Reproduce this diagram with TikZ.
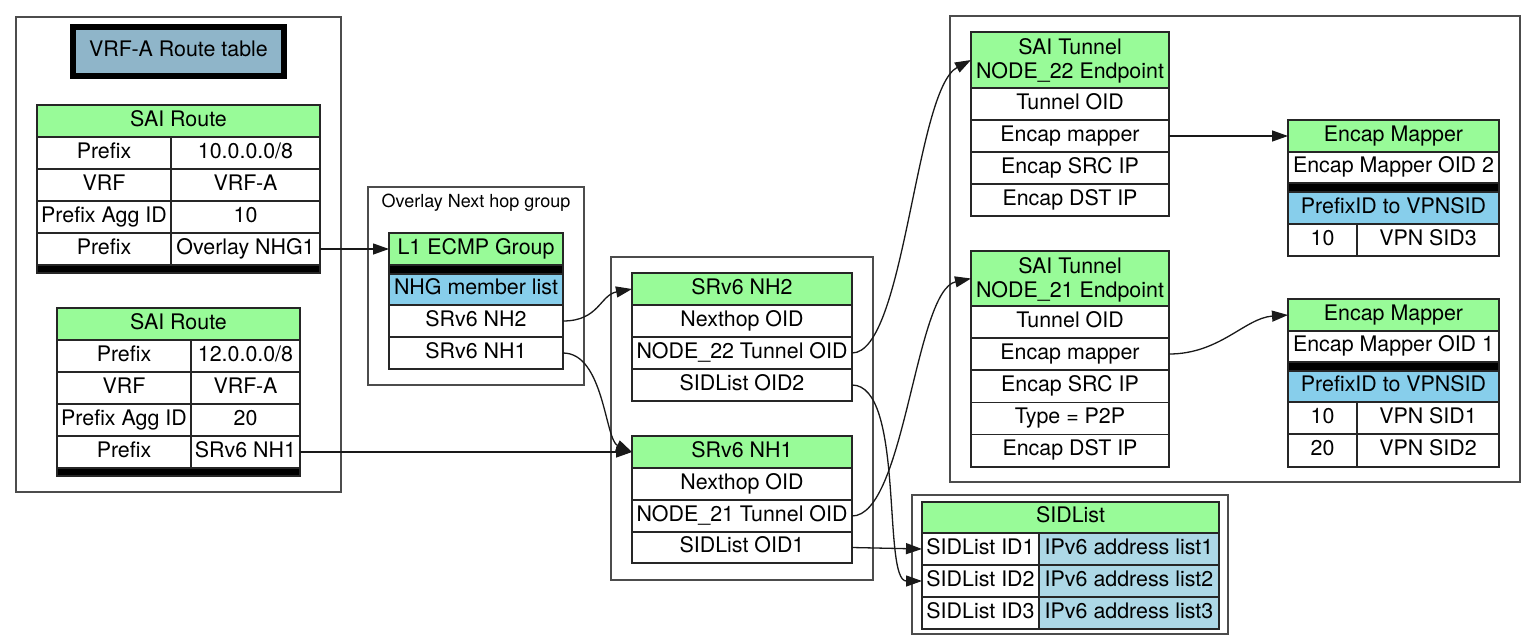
\documentclass[tikz,border=0pt]{standalone}
\usepackage{fontspec}
\setmainfont{TeX Gyre Heros}
\usetikzlibrary{arrows.meta}
\definecolor{hdrgreen}{HTML}{98FB98}
\definecolor{skyb}{HTML}{87CEEB}
\definecolor{lblue}{HTML}{ADD8E6}
\definecolor{vrfblue}{HTML}{8FB5C9}
\newcommand\tcell[7]{\node[tcellstyle,#6,minimum width={(#4-#2)*1pt},minimum height={(#5-#3)*1pt}] (#1) at ({(#2+#4)/2},{(#3+#5)/2}) {#7};}
\tikzset{
  tcellstyle/.style={draw=black!85, line width=1.2pt, inner sep=0pt, outer sep=0pt,
    font=\fontsize{21.4}{24}\selectfont, text height=15.5pt, text depth=5.5pt, fill=white},
  hdr/.style={fill=hdrgreen},
  blk/.style={fill=black, text height=0pt, text depth=0pt},
  sky/.style={fill=skyb},
  lbl/.style={fill=lblue},
  txt/.style={inner sep=0pt, font=\fontsize{21.4}{24}\selectfont},
  cluster/.style={draw=black!70, line width=1.4pt},
  conn/.style={draw=black!90, line width=1.3pt, -{Triangle[length=16pt,width=11pt]}}
}
\begin{document}
\begin{tikzpicture}[x=1pt,y=-1pt]
\fill[white] (0,0) rectangle (1536,640);
\useasboundingbox (0,0) rectangle (1536,640);

% clusters
\draw[cluster] (16,17) rectangle (341,492);
\draw[cluster] (368,187) rectangle (584,385);
\draw[cluster] (611,257) rectangle (873,580);
\draw[cluster] (912,495) rectangle (1228,634);
\draw[cluster] (950,16) rectangle (1520,482);

% VRF-A title
\node[draw=black, line width=6pt, fill=vrfblue, minimum width=211pt, minimum height=49pt,
  inner sep=0pt, font=\fontsize{21.4}{24}\selectfont, text height=15.5pt, text depth=5.5pt] (vrf) at (178.5,51.5) {VRF-A Route table};

% SAI Route 1
\tcell{r1h}{37}{105}{320}{137}{hdr}{SAI Route}
\tcell{r1a1}{37}{137}{171}{169}{}{Prefix}
\tcell{r1a2}{171}{137}{320}{169}{}{10.0.0.0/8}
\tcell{r1b1}{37}{169}{171}{201}{}{VRF}
\tcell{r1b2}{171}{169}{320}{201}{}{VRF-A}
\tcell{r1c1}{37}{201}{171}{233}{}{Prefix Agg ID}
\tcell{r1c2}{171}{201}{320}{233}{}{10}
\tcell{r1d1}{37}{233}{171}{265}{}{Prefix}
\tcell{r1d2}{171}{233}{320}{265}{}{Overlay NHG1}
\tcell{r1bar}{37}{265}{320}{273}{blk}{}

% SAI Route 2
\tcell{r2h}{57}{308}{300}{340}{hdr}{SAI Route}
\tcell{r2a1}{57}{340}{191}{372}{}{Prefix}
\tcell{r2a2}{191}{340}{300}{372}{}{12.0.0.0/8}
\tcell{r2b1}{57}{372}{191}{404}{}{VRF}
\tcell{r2b2}{191}{372}{300}{404}{}{VRF-A}
\tcell{r2c1}{57}{404}{191}{436}{}{Prefix Agg ID}
\tcell{r2c2}{191}{404}{300}{436}{}{20}
\tcell{r2d1}{57}{436}{191}{468}{}{Prefix}
\tcell{r2d2}{191}{436}{300}{468}{}{SRv6 NH1}
\tcell{r2bar}{57}{468}{300}{476}{blk}{}

% Overlay NHG
\node[inner sep=0pt, font=\fontsize{18}{21}\selectfont, anchor=base] (ovlbl) at (476,207) {Overlay Next hop group};
\tcell{l1h}{389}{233}{563}{265}{hdr}{L1 ECMP Group}
\tcell{l1bar}{389}{265}{563}{274}{blk}{}
\tcell{l1m}{389}{274}{563}{305}{sky}{NHG member list}
\tcell{l1nh2}{389}{305}{563}{337}{}{SRv6 NH2}
\tcell{l1nh1}{389}{337}{563}{369}{}{SRv6 NH1}

% SRv6 NH2
\tcell{nh2h}{632}{273}{852}{305}{hdr}{SRv6 NH2}
\tcell{nh2a}{632}{305}{852}{337}{}{Nexthop OID}
\tcell{nh2t}{632}{337}{852}{369}{}{NODE\_22 Tunnel OID}
\tcell{nh2s}{632}{369}{852}{401}{}{SIDList OID2}

% SRv6 NH1
\tcell{nh1h}{632}{436}{852}{468}{hdr}{SRv6 NH1}
\tcell{nh1a}{632}{468}{852}{500}{}{Nexthop OID}
\tcell{nh1t}{632}{500}{852}{532}{}{NODE\_21 Tunnel OID}
\tcell{nh1s}{632}{532}{852}{563}{}{SIDList OID1}

% SIDList
\tcell{slh}{922}{502}{1219}{533}{hdr}{SIDList}
\tcell{sl1a}{922}{533}{1039}{565}{}{SIDList ID1}
\tcell{sl1b}{1039}{533}{1219}{565}{lbl}{IPv6 address list1}
\tcell{sl2a}{922}{565}{1039}{597}{}{SIDList ID2}
\tcell{sl2b}{1039}{565}{1219}{597}{lbl}{IPv6 address list2}
\tcell{sl3a}{922}{597}{1039}{629}{}{SIDList ID3}
\tcell{sl3b}{1039}{597}{1219}{629}{lbl}{IPv6 address list3}

% Tunnel 22
\tcell{t22h}{971}{32}{1169}{88}{hdr}{}
\node[txt, anchor=base] (t22l1) at (1070,54) {SAI Tunnel};
\node[txt, anchor=base] (t22l2) at (1070,78) {NODE\_22 Endpoint};
\tcell{t22a}{971}{88}{1169}{120}{}{Tunnel OID}
\tcell{t22m}{971}{120}{1169}{152}{}{Encap mapper}
\tcell{t22s}{971}{152}{1169}{184}{}{Encap SRC IP}
\tcell{t22d}{971}{184}{1169}{216}{}{Encap DST IP}

% Tunnel 21
\tcell{t21h}{971}{251}{1169}{306}{hdr}{}
\node[txt, anchor=base] (t21l1) at (1070,273) {SAI Tunnel};
\node[txt, anchor=base] (t21l2) at (1070,297) {NODE\_21 Endpoint};
\tcell{t21a}{971}{306}{1169}{338}{}{Tunnel OID}
\tcell{t21m}{971}{338}{1169}{370}{}{Encap mapper}
\tcell{t21s}{971}{370}{1169}{402.5}{}{Encap SRC IP}
\tcell{t21p}{971}{402.5}{1169}{434.5}{}{Type = P2P}
\tcell{t21d}{971}{434.5}{1169}{467}{}{Encap DST IP}

% Encap Mapper 2
\tcell{em2h}{1288}{120}{1499}{152}{hdr}{Encap Mapper}
\tcell{em2o}{1288}{152}{1499}{183}{}{Encap Mapper OID 2}
\tcell{em2bar}{1288}{183}{1499}{192}{blk}{}
\tcell{em2p}{1288}{192}{1499}{224}{sky}{PrefixID to VPNSID}
\tcell{em2r1a}{1288}{224}{1357}{256}{}{10}
\tcell{em2r1b}{1357}{224}{1499}{256}{}{VPN SID3}

% Encap Mapper 1
\tcell{em1h}{1288}{299}{1499}{331}{hdr}{Encap Mapper}
\tcell{em1o}{1288}{331}{1499}{362}{}{Encap Mapper OID 1}
\tcell{em1bar}{1288}{362}{1499}{371}{blk}{}
\tcell{em1p}{1288}{371}{1499}{402}{sky}{PrefixID to VPNSID}
\tcell{em1r1a}{1288}{402}{1357}{434}{}{10}
\tcell{em1r1b}{1357}{402}{1499}{434}{}{VPN SID1}
\tcell{em1r2a}{1288}{434}{1357}{467}{}{20}
\tcell{em1r2b}{1357}{434}{1499}{467}{}{VPN SID2}

% connectors
\draw[conn] (r1d2.east) -- (l1h.west);
\draw[conn] (r2d2.east) -- (nh1h.west);
\draw[conn] (l1nh2.east) .. controls +(36,0) and +(-32,6) .. (nh2h.west);
\draw[conn] (l1nh1.east) .. controls +(41,0) and +(-27,-12) .. (nh1h.west);
\draw[conn] (nh2t.east) .. controls +(53,0) and +(-56,30) .. (t22h.west);
\draw[conn] (nh1t.east) .. controls +(53,0) and +(-56,12) .. (t21h.west);
\draw[conn] (nh2s.east) .. controls +(53,0) and +(-40,0) .. (sl2a.west);
\draw[conn] (nh1s.east) -- (sl1a.west);
\draw[conn] (t22m.east) -- (em2h.west);
\draw[conn] (t21m.east) .. controls +(51,0) and +(-43,3) .. (em1h.west);
\end{tikzpicture}
\end{document}
